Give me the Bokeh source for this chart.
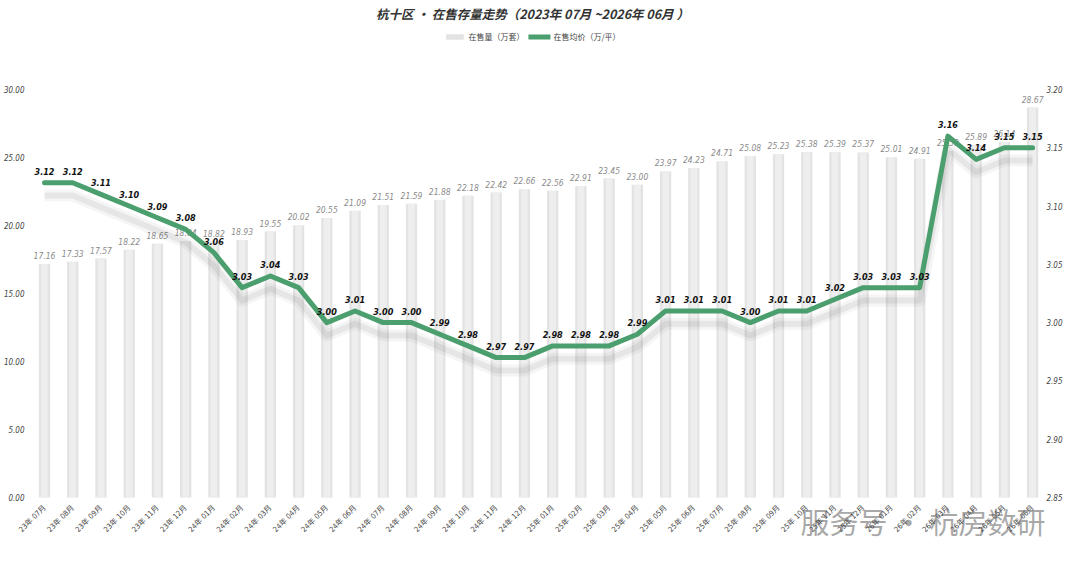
import math
from bokeh.plotting import figure
from bokeh.models import Range1d, LinearAxis, Legend, LegendItem, ColumnDataSource, FixedTicker
from bokeh.core.properties import value
from bokeh.embed import file_html
from bokeh.resources import INLINE

months = ["23年 07月", "23年 08月", "23年 09月", "23年 10月", "23年 11月", "23年 12月",
          "24年 01月", "24年 02月", "24年 03月", "24年 04月", "24年 05月", "24年 06月",
          "24年 07月", "24年 08月", "24年 09月", "24年 10月", "24年 11月", "24年 12月",
          "25年 01月", "25年 02月", "25年 03月", "25年 04月", "25年 05月", "25年 06月",
          "25年 07月", "25年 08月", "25年 09月", "25年 10月", "25年 11月", "25年 12月",
          "26年 01月", "26年 02月", "26年 03月", "26年 04月", "26年 05月", "26年 06月"]

stock = [17.16, 17.33, 17.57, 18.22, 18.65, 18.84,
         18.82, 18.93, 19.55, 20.02, 20.55, 21.09,
         21.51, 21.59, 21.88, 22.18, 22.42, 22.66,
         22.56, 22.91, 23.45, 23.00, 23.97, 24.23,
         24.71, 25.08, 25.23, 25.38, 25.39, 25.37,
         25.01, 24.91, 25.50, 25.89, 26.14, 28.67]

price = [3.12, 3.12, 3.11, 3.10, 3.09, 3.08,
         3.06, 3.03, 3.04, 3.03, 3.00, 3.01,
         3.00, 3.00, 2.99, 2.98, 2.97, 2.97,
         2.98, 2.98, 2.98, 2.99, 3.01, 3.01,
         3.01, 3.00, 3.01, 3.01, 3.02, 3.03,
         3.03, 3.03, 3.16, 3.14, 3.15, 3.15]

left_ticks = [0, 5, 10, 15, 20, 25, 30]
right_ticks = [2.85, 2.90, 2.95, 3.00, 3.05, 3.10, 3.15, 3.20]

TITLE = "杭十区 · 在售存量走势（2023年 07月 ~2026年 06月 ）"
WATERMARK = ["服务号 · 杭房数研"]

NARROW = "'Liberation Sans Narrow', 'DejaVu Sans Condensed', 'Noto Sans CJK SC', sans-serif"
CJK = "'Noto Sans CJK SC', sans-serif"
GREEN = "#4b9e6d"

# left 0..30 maps onto right 2.85..3.20; frame extends above (legend) and below (month labels)
LEFT_LO, LEFT_TOP = -3.9, 34.85
RIGHT_LO, RIGHT_HI = 2.85, 3.20
k = (RIGHT_HI - RIGHT_LO) / 30.0
right_lo = RIGHT_LO + k * LEFT_LO
right_top = RIGHT_LO + k * LEFT_TOP

X_LO, X_HI = -1.559, 36.13
LEFT_AXIS_AT, RIGHT_AXIS_AT = -0.496, 35.28

idx = list(range(len(months)))
src = ColumnDataSource(dict(
    x=idx,
    stock=stock,
    price=price,
    shadow=[v - 0.011 for v in price],
    stock_lbl=["%.2f" % v for v in stock],
    price_lbl=["%.2f" % v for v in price],
))

p = figure(width=1064, height=550, output_backend="svg", toolbar_location=None,
           x_range=Range1d(X_LO, X_HI), y_range=Range1d(LEFT_LO, LEFT_TOP),
           min_border_left=0, min_border_right=0, min_border_top=0, min_border_bottom=0)
p.extra_y_ranges = {"price": Range1d(right_lo, right_top)}

p.title.text = TITLE
p.title.align = "center"
p.title.text_font = CJK
p.title.text_font_style = "bold italic"
p.title.text_font_size = "12.5px"
p.title.text_color = "#333333"
p.title.standoff = 2
p.title.offset = 0

p.outline_line_color = None
p.grid.visible = False
p.background_fill_color = "white"
p.border_fill_color = "white"

def style_axis(a, size):
    a.axis_line_color = None
    a.major_tick_line_color = None
    a.minor_tick_line_color = None
    a.major_label_text_font = NARROW
    a.major_label_text_font_size = size
    a.major_label_text_color = "#444444"

ax = p.yaxis[0]
ax.ticker = FixedTicker(ticks=left_ticks)
ax.major_label_overrides = {t: "%.2f" % t for t in left_ticks}
style_axis(ax, "8px")
ax.major_label_text_font_style = "italic"
ax.major_label_standoff = 0
ax.fixed_location = LEFT_AXIS_AT

rax = LinearAxis(y_range_name="price", ticker=FixedTicker(ticks=right_ticks))
rax.major_label_overrides = {t: "%.2f" % t for t in right_ticks}
style_axis(rax, "8px")
rax.major_label_text_font_style = "italic"
rax.major_label_standoff = 0
rax.fixed_location = RIGHT_AXIS_AT
p.add_layout(rax, "right")

xa = p.xaxis[0]
xa.ticker = FixedTicker(ticks=idx)
xa.major_label_overrides = {i: m for i, m in enumerate(months)}
xa.major_label_orientation = math.pi / 4
style_axis(xa, "7.5px")
xa.major_label_standoff = 3
xa.fixed_location = 0

bars = p.vbar(x="x", top="stock", width=0.4, bottom=0, source=src,
              fill_color="#e3e3e3", line_color=None)
p.vbar(x="x", top="stock", width=0.24, bottom=0, source=src,
       fill_color="#eeeeee", line_color=None)

p.text(x="x", y="stock", text="stock_lbl", source=src, y_offset=-5,
       text_align="center", text_baseline="bottom",
       text_font=value(NARROW), text_font_style="italic",
       text_font_size="8.5px", text_color="#8a8a8a")

p.line(x="x", y="shadow", source=src, y_range_name="price",
       line_color="#000000", line_alpha=0.04, line_width=12, line_join="round")
p.line(x="x", y="shadow", source=src, y_range_name="price",
       line_color="#000000", line_alpha=0.06, line_width=6, line_join="round")

line = p.line(x="x", y="price", source=src, y_range_name="price",
              line_color=GREEN, line_width=5, line_join="round", line_cap="round")

p.text(x="x", y="price", text="price_lbl", source=src, y_range_name="price",
       y_offset=-8, text_align="center", text_baseline="bottom",
       text_font=value(NARROW), text_font_style="bold italic",
       text_font_size="9px", text_color="#111111")

# watermark, overlapping the month labels as in the reference
p.text(x=[26.78], y=[-1.7], text=WATERMARK, text_align="left", text_baseline="middle",
       text_font=value(CJK), text_font_size="29px", text_color="#8c8c8c", text_alpha=0.75)

legend = Legend(items=[LegendItem(label="在售量（万套）", renderers=[bars]),
                       LegendItem(label="在售均价（万/平）", renderers=[line])],
                orientation="horizontal", location="top_center")
legend.border_line_color = None
legend.background_fill_alpha = 0
legend.label_text_font = CJK
legend.label_text_font_size = "8px"
legend.label_text_color = "#444444"
legend.glyph_width = 22
legend.glyph_height = 7
legend.spacing = 4
legend.padding = 0
legend.margin = 8
legend.label_standoff = 3
p.add_layout(legend)

open("out.html", "w").write(file_html(p, INLINE))
